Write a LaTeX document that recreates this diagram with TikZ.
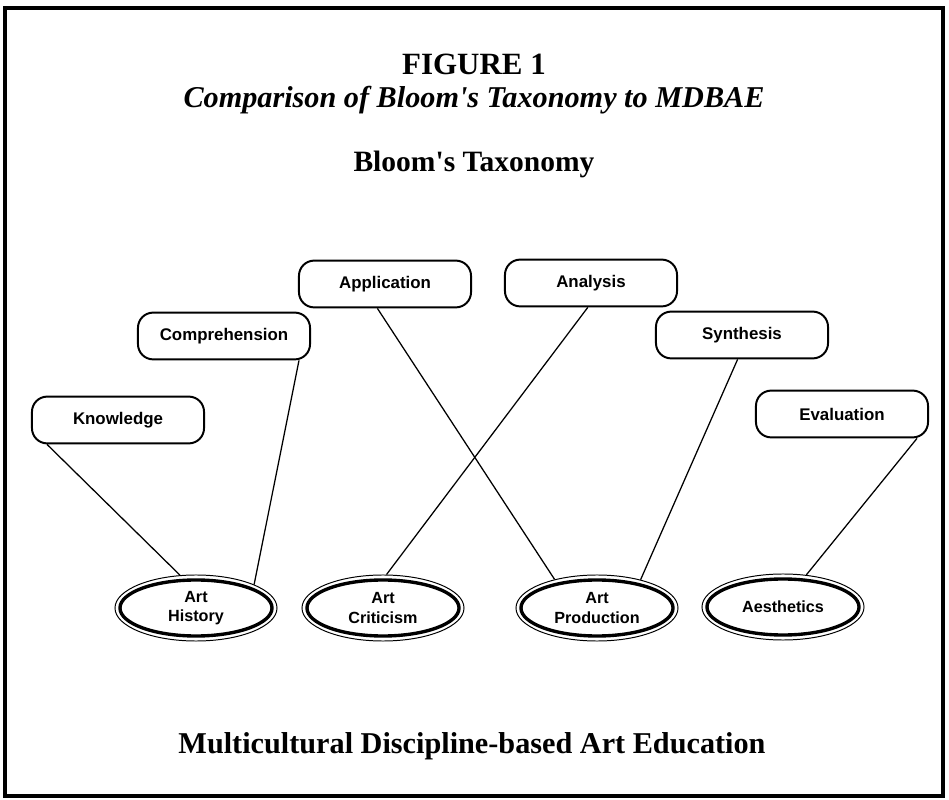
\documentclass[tikz,border=0pt]{standalone}
\usepackage{fontspec}
\setmainfont{Liberation Serif}
\newfontfamily\boxfont{Liberation Sans}
\usetikzlibrary{shapes.geometric}

\begin{document}
\begin{tikzpicture}[x=0.025cm,y=-0.025cm]
\useasboundingbox (0,0) rectangle (949,800);

% 1. Stile definieren
\tikzset{
  level box/.style={
    draw,
    rounded corners=0.38cm,
    line width=1.4pt,
    minimum width=4.3cm,
    minimum height=1.17cm,
    font=\boxfont\bfseries\fontsize{12}{14}\selectfont
  },
  discipline/.style={
    draw,
    ellipse,
    inner sep=0pt,
    line width=0.7pt,
    minimum width=4.05cm,
    minimum height=1.65cm,
    align=center,
    font=\boxfont\bfseries\fontsize{11.5}{14}\selectfont,
    path picture={
      \draw[line width=2.4pt] (path picture bounding box.center)
        ellipse [x radius=1.9cm, y radius=0.7cm];
    }
  },
  link/.style={line width=0.9pt}
}

% 2. Rahmen und Titel
\draw[line width=0.12cm] (5,8) rectangle (943,796);
\node (fig) [anchor=base, font=\bfseries\fontsize{22}{26}\selectfont] at (474,75) {FIGURE 1};
\node (sub) [anchor=base, font=\bfseries\itshape\fontsize{21.5}{25}\selectfont] at (474,108) {Comparison of Bloom\textquotesingle s Taxonomy to MDBAE};
\node (bloom) [anchor=base, font=\bfseries\fontsize{21}{25}\selectfont] at (474,172) {Bloom\textquotesingle s Taxonomy};
\node (mdbae) [anchor=base, font=\bfseries\fontsize{21.5}{25}\selectfont] at (472,753) {Multicultural Discipline-based Art Education};

% 3. Stufen der Taxonomie
\node (know) [level box] at (118,420) {Knowledge};
\node (comp) [level box] at (224,336) {Comprehension};
\node (appl) [level box] at (385,284) {Application};
\node (anal) [level box] at (591,283) {Analysis};
\node (synt) [level box] at (742,335) {Synthesis};
\node (eval) [level box] at (842,414) {Evaluation};

% 4. Disziplinen
\node (hist) [discipline] at (196,608) {Art\\History};
\node (crit) [discipline] at (383,608) {Art\\Criticism};
\node (prod) [discipline] at (597,608) {Art\\Production};
\node (aest) [discipline] at (783,607) {Aesthetics};

% 5. Verbindungen
\draw [link] ([xshift=0.4cm]know.south west) -- (hist.116);
\draw [link] ([xshift=-0.3cm]comp.south east) -- (hist.22);
\draw [link] ([xshift=-0.19cm]appl.south) -- (prod.146);
\draw [link] ([xshift=-0.08cm]anal.south) -- (crit.84);
\draw [link] ([xshift=-0.11cm]synt.south) -- (prod.33);
\draw [link] ([xshift=-0.3cm]eval.south east) -- (aest.54);

\end{tikzpicture}
\end{document}
